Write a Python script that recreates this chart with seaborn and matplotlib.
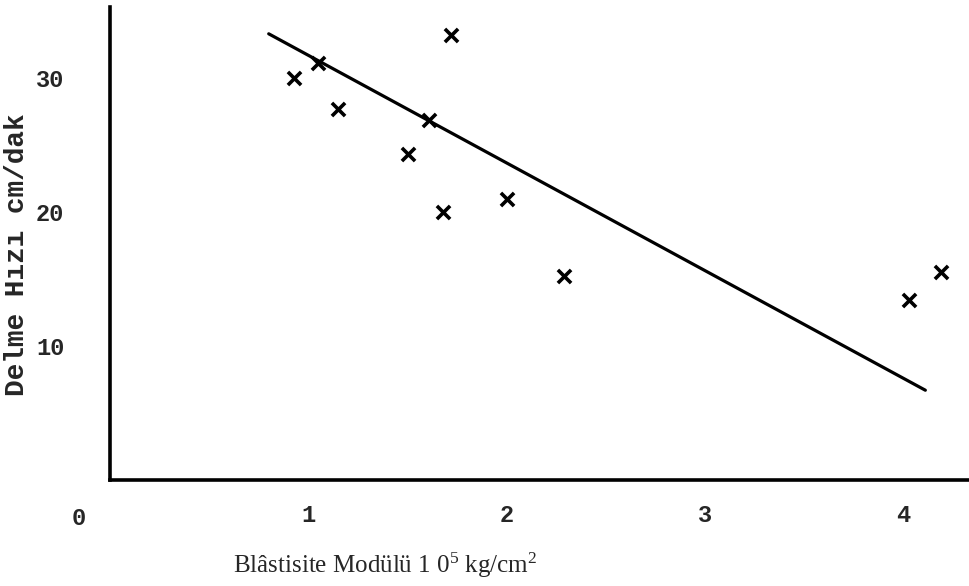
import matplotlib
matplotlib.use("Agg")
import matplotlib.pyplot as plt
from matplotlib.ticker import MultipleLocator, FixedLocator
import seaborn as sns
import pandas as pd

# Data
modulus = [0.93, 1.05, 1.15, 1.50, 1.61, 1.72, 1.68, 2.00, 2.29, 4.03, 4.19]
drill_rate = [30.0, 31.1, 27.7, 24.3, 26.9, 33.2, 20.0, 21.0, 15.2, 13.4, 15.5]
fit_x = [0.80, 4.11]
fit_y = [33.3, 6.7]
x_tick_labels = ["1", "2", "3", "4"]
y_tick_labels = ["10", "20", "30"]

sns.set_style("white")
plt.rcParams["mathtext.fontset"] = "custom"
plt.rcParams["mathtext.rm"] = "Liberation Serif"
plt.rcParams["mathtext.it"] = "Liberation Serif"
plt.rcParams["mathtext.bf"] = "Liberation Serif"

df = pd.DataFrame({"x": modulus, "y": drill_rate})
fit = pd.DataFrame({"x": fit_x, "y": fit_y})

fig = plt.figure(figsize=(9.69, 5.86), dpi=100)
ax = fig.add_axes([110 / 969, 1 - 480 / 586, 859 / 969, 473 / 586])

sns.lineplot(data=fit, x="x", y="y", ax=ax, color="black", linewidth=2.3)
sns.scatterplot(data=df, x="x", y="y", ax=ax, marker="x", s=90,
                color="black", linewidth=2.6)

ax.set_xlim(0, 4.33)
ax.set_ylim(0, 35.3)

ax.xaxis.set_major_locator(FixedLocator([1, 2, 3, 4]))
ax.xaxis.set_minor_locator(MultipleLocator(0.5))
ax.yaxis.set_major_locator(FixedLocator([10, 20, 30]))
ax.yaxis.set_minor_locator(MultipleLocator(5))
ax.set_xticklabels(x_tick_labels)
ax.set_yticklabels(y_tick_labels)

mono = ["Liberation Mono", "DejaVu Sans Mono"]
for lab in ax.get_xticklabels() + ax.get_yticklabels():
    lab.set_family(mono)
    lab.set_fontweight("bold")
    lab.set_fontsize(17)

ax.tick_params(axis="both", which="both", direction="in", length=6,
               width=2, color="black")
ax.tick_params(axis="x", which="major", pad=17)
ax.tick_params(axis="y", which="major", pad=33)

for side in ["top", "right"]:
    ax.spines[side].set_visible(False)
for side in ["left", "bottom"]:
    ax.spines[side].set_color("black")
    ax.spines[side].set_linewidth(2.6)

ax.text(-0.16, -0.082, "0", transform=ax.get_xaxis_transform(),
        ha="center", va="center", family=mono, fontweight="bold", fontsize=17)

ax.set_ylabel("Delme Hızı cm/dak", family=mono, fontweight="bold", fontsize=20)
ax.yaxis.label.set_va("center")
ax.yaxis.set_label_coords(-0.108, 0.476)
ax.set_xlabel("Blâstisite Modülü 1 0$^{5}$ kg/cm$^{2}$",
              family="Liberation Serif", fontsize=18)
ax.xaxis.label.set_va("center")
ax.xaxis.set_label_coords(0.32, -0.18)

fig.savefig("out.png", dpi=100)
